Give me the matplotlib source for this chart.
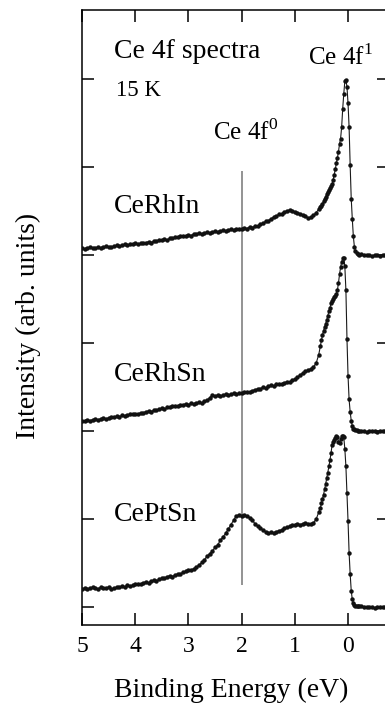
import numpy as np
import matplotlib
matplotlib.use("Agg")
import matplotlib.pyplot as plt

plt.rcParams['font.family'] = ['Liberation Serif', 'DejaVu Serif']
plt.rcParams['mathtext.fontset'] = 'custom'
plt.rcParams['mathtext.rm'] = 'Liberation Serif'

# energy grid (eV): coarse part, peak part, above E_F
e_coarse = np.linspace(5.0, 0.55, 90)
e_fine = np.linspace(0.52, -0.20, 37)
e_tail = np.linspace(-0.25, -0.75, 11)
energy = np.concatenate([e_coarse, e_fine, e_tail])

# intensities (arb. units, each above its own baseline)
cerhin = [
    0.08, 0.07, 0.08, 0.09, 0.08, 0.08, 0.09, 0.08, 0.09, 0.10,
    0.09, 0.09, 0.10, 0.11, 0.10, 0.11, 0.12, 0.11, 0.12, 0.12,
    0.13, 0.12, 0.13, 0.14, 0.14, 0.15, 0.14, 0.16, 0.16, 0.17,
    0.17, 0.18, 0.17, 0.19, 0.19, 0.20, 0.20, 0.21, 0.21, 0.22,
    0.23, 0.22, 0.24, 0.24, 0.25, 0.24, 0.25, 0.26, 0.25, 0.26,
    0.27, 0.26, 0.27, 0.28, 0.27, 0.28, 0.29, 0.28, 0.30, 0.29,
    0.30, 0.31, 0.30, 0.32, 0.31, 0.33, 0.33, 0.35, 0.36, 0.38,
    0.39, 0.41, 0.43, 0.44, 0.46, 0.47, 0.49, 0.50, 0.51, 0.50,
    0.49, 0.48, 0.47, 0.45, 0.44, 0.42, 0.43, 0.45, 0.48, 0.52,
    # peak
    0.54, 0.56, 0.58, 0.61, 0.64, 0.66, 0.69, 0.72, 0.74, 0.76,
    0.78, 0.80, 0.85, 0.91, 0.97, 1.04, 1.10, 1.17, 1.26, 1.32,
    1.45, 1.66, 1.83, 1.97, 1.99, 1.91, 1.72, 1.45, 1.02, 0.64,
    0.41, 0.21, 0.09, 0.04, 0.02, 0.01, 0.00,
    # tail
    0.01, 0.00, 0.00, 0.00, -0.01, 0.00, 0.00, -0.01, 0.00, 0.00, 0.00,
]

cerhsn = [
    0.12, 0.12, 0.13, 0.12, 0.13, 0.14, 0.13, 0.14, 0.15, 0.14,
    0.15, 0.16, 0.16, 0.17, 0.16, 0.18, 0.17, 0.18, 0.19, 0.19,
    0.20, 0.19, 0.21, 0.21, 0.22, 0.23, 0.22, 0.24, 0.24, 0.25,
    0.26, 0.25, 0.27, 0.27, 0.28, 0.29, 0.28, 0.30, 0.30, 0.31,
    0.30, 0.32, 0.31, 0.32, 0.33, 0.32, 0.34, 0.35, 0.38, 0.41,
    0.40, 0.41, 0.40, 0.41, 0.42, 0.41, 0.42, 0.43, 0.42, 0.43,
    0.43, 0.44, 0.45, 0.44, 0.46, 0.47, 0.48, 0.48, 0.50, 0.49,
    0.51, 0.52, 0.51, 0.53, 0.54, 0.54, 0.55, 0.56, 0.56, 0.58,
    0.59, 0.61, 0.64, 0.66, 0.68, 0.69, 0.71, 0.73, 0.77, 0.87,
    # peak
    0.97, 1.03, 1.09, 1.14, 1.18, 1.22, 1.26, 1.31, 1.36, 1.40,
    1.45, 1.48, 1.50, 1.52, 1.53, 1.56, 1.60, 1.68, 1.78, 1.86,
    1.92, 1.96, 1.97, 1.87, 1.60, 1.05, 0.63, 0.36, 0.22, 0.12,
    0.06, 0.03, 0.02, 0.01, 0.01, 0.00, 0.00,
    # tail
    0.00, 0.00, -0.01, 0.00, 0.00, 0.00, -0.01, 0.00, 0.00, 0.00, 0.00,
]

ceptsn = [
    0.21, 0.22, 0.21, 0.22, 0.23, 0.22, 0.21, 0.23, 0.22, 0.22,
    0.23, 0.21, 0.22, 0.23, 0.23, 0.24, 0.23, 0.25, 0.24, 0.25,
    0.26, 0.27, 0.26, 0.28, 0.29, 0.28, 0.30, 0.31, 0.30, 0.32,
    0.33, 0.33, 0.35, 0.36, 0.35, 0.37, 0.38, 0.38, 0.40, 0.41,
    0.42, 0.42, 0.44, 0.46, 0.48, 0.51, 0.54, 0.58, 0.61, 0.64,
    0.68, 0.71, 0.76, 0.80, 0.84, 0.89, 0.94, 0.99, 1.04, 1.05,
    1.04, 1.05, 1.04, 1.02, 0.99, 0.95, 0.92, 0.90, 0.88, 0.86,
    0.84, 0.85, 0.84, 0.86, 0.87, 0.88, 0.90, 0.91, 0.92, 0.93,
    0.94, 0.95, 0.94, 0.95, 0.96, 0.95, 0.95, 0.96, 1.00, 1.08,
    # peak
    1.13, 1.18, 1.23, 1.28, 1.34, 1.40, 1.47, 1.53, 1.60, 1.67,
    1.75, 1.84, 1.88, 1.90, 1.92, 1.95, 1.93, 1.88, 1.86, 1.91,
    1.94, 1.95, 1.93, 1.80, 1.60, 1.30, 0.98, 0.62, 0.38, 0.19,
    0.09, 0.05, 0.03, 0.02, 0.02, 0.01, 0.01,
    # tail
    0.01, 0.00, 0.00, 0.00, 0.00, -0.01, 0.00, 0.00, 0.00, 0.00, 0.00,
]

samples = ['CeRhIn', 'CeRhSn', 'CePtSn']
offsets = [4, 2, 0]
spectra = [cerhin, cerhsn, ceptsn]
label_y = [4.55, 2.64, 1.05]

f0_energy = 2.0
xticks = [5, 4, 3, 2, 1, 0]
yticks = [0, 1, 2, 3, 4, 5, 6]

fig = plt.figure(figsize=(3.85, 7.03), dpi=100)
ax = fig.add_axes([82 / 385, 78 / 703, 307 / 385, 615 / 703])

ax.vlines(f0_energy, 0.25, 4.95, color='#8a8a8a', linewidth=1.3, zorder=1)

for name, off, spec, ly in zip(samples, offsets, spectra, label_y):
    ax.plot(energy, np.array(spec) + off, color='#1a1a1a', linewidth=0.8,
            marker='o', markersize=3.2, markerfacecolor='#111111',
            markeredgewidth=0, zorder=3)
    ax.text(4.40, ly, name, fontsize=20, ha='left', va='center')

ax.text(4.40, 6.31, 'Ce 4f spectra', fontsize=20, ha='left', va='center')
ax.text(4.36, 5.87, '15 K', fontsize=16.5, ha='left', va='center')
ax.text(1.92, 5.39, r'Ce 4f$^{\mathrm{0}}$', fontsize=18, ha='center', va='center')
ax.text(0.15, 6.25, r'Ce 4f$^{\mathrm{1}}$', fontsize=18, ha='center', va='center')

ax.set_xlim(5, -0.77)
ax.set_ylim(-0.2, 6.78)
ax.set_xticks(xticks)
ax.set_xticklabels([str(t) for t in xticks], fontsize=17)
ax.set_yticks(yticks)
ax.set_yticklabels([])
ax.tick_params(direction='in', length=8.5, width=1.1, top=True, right=True, pad=8)
ax.tick_params(axis='x', labeltop=False)
for s in ax.spines.values():
    s.set_linewidth(1.1)

fig.text(231 / 385, 1 - 690 / 703, 'Binding Energy (eV)', fontsize=20,
         ha='center', va='center')
fig.text(28 / 385, 1 - 326 / 703, 'Intensity (arb. units)', fontsize=20,
         ha='center', va='center', rotation=90)

fig.savefig('out.png', dpi=100)
